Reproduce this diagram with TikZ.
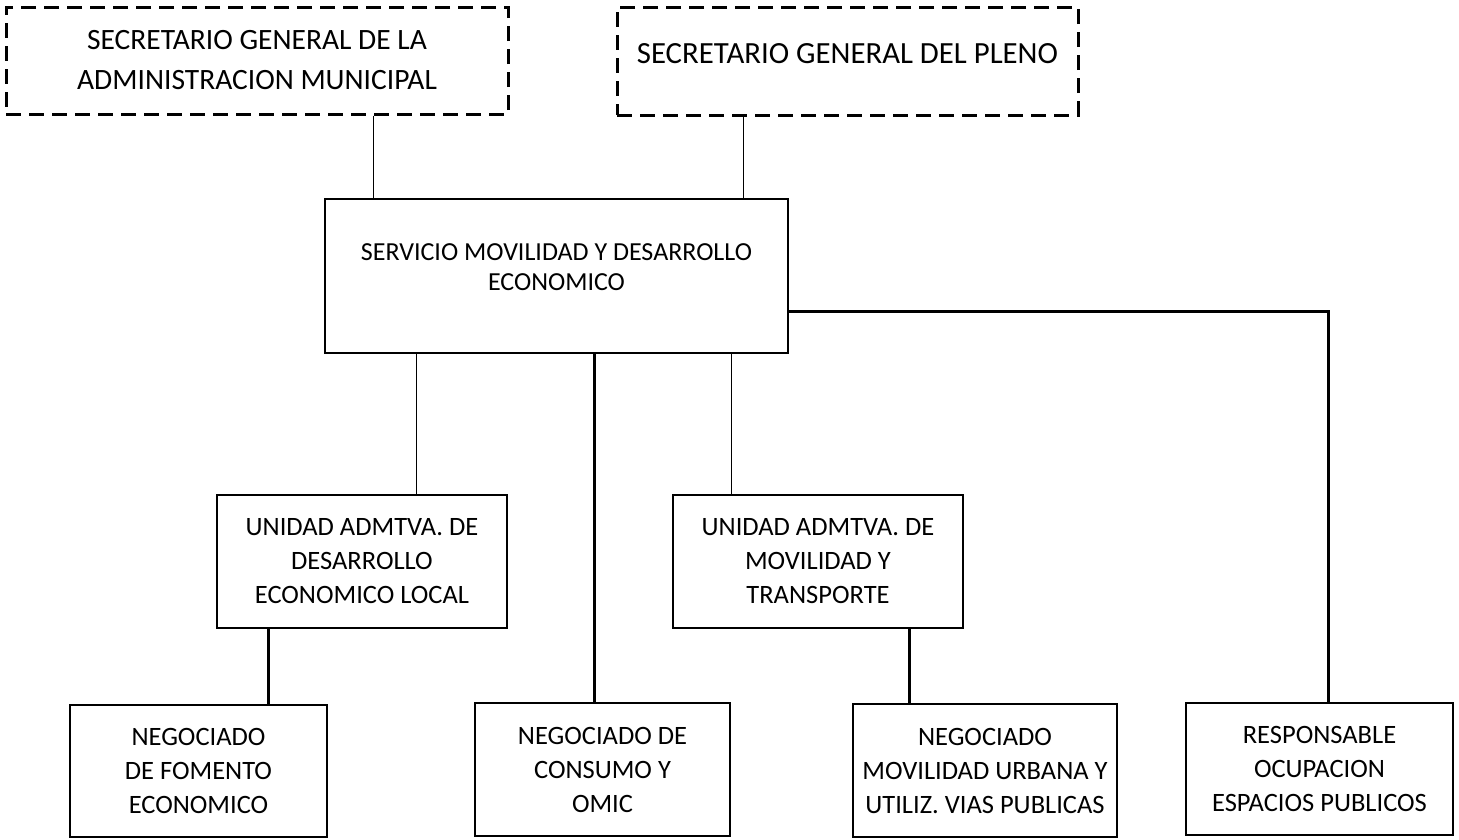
\documentclass[tikz,border=0pt]{standalone}
\usepackage{fontspec}
\setmainfont{Carlito}
\usetikzlibrary{positioning}

\begin{document}
\begin{tikzpicture}[x=1pt,y=-1pt,
  dashbox/.style={draw, line width=3pt, dash pattern=on 15pt off 8pt, align=center, inner sep=0pt, font=\fontsize{29.5}{40}\selectfont},
  unitbox/.style={draw, line width=2.5pt, align=center, inner sep=0pt, font=\fontsize{26.5}{34}\selectfont},
  boxtext/.style={align=center, inner sep=0pt, font=\fontsize{26}{30}\selectfont},
  thinline/.style={line width=1pt},
  thickline/.style={line width=3pt}]
\useasboundingbox (0,0) rectangle (1459,839);
% top row
\node[dashbox, minimum width=502pt, minimum height=107pt] (secadm) at (257,60.5) {SECRETARIO GENERAL DE LA\\ADMINISTRACION MUNICIPAL};
\node[dashbox, minimum width=461pt, minimum height=108pt,
  label={[name=secpleno-txt, dashbox, draw=none, font=\fontsize{30.8}{40}\selectfont, yshift=7pt]center:SECRETARIO GENERAL DEL PLENO}] (secpleno) at (847.5,61) {};
% service
\node[unitbox, minimum width=463pt, minimum height=154pt,
  label={[name=servicio-txt, boxtext, yshift=9pt]center:{SERVICIO MOVILIDAD Y DESARROLLO\\ECONOMICO}}] (servicio) at (556.5,276) {};
% units
\node[unitbox, minimum width=290pt, minimum height=133pt] (udel) at (362,561.5) {UNIDAD ADMTVA. DE\\DESARROLLO\\ECONOMICO LOCAL};
\node[unitbox, minimum width=290pt, minimum height=133pt] (umov) at (818,561.5) {UNIDAD ADMTVA. DE\\MOVILIDAD Y\\TRANSPORTE};
% bottom row
\node[unitbox, minimum width=257pt, minimum height=132pt] (negfom) at (198.5,771) {NEGOCIADO\\DE FOMENTO\\ECONOMICO};
\node[unitbox, minimum width=255pt, minimum height=133pt] (negcons) at (602.5,769.5) {NEGOCIADO DE\\CONSUMO Y\\OMIC};
\node[unitbox, minimum width=264pt, minimum height=133pt] (negmov) at (985,770.5) {NEGOCIADO\\MOVILIDAD URBANA Y\\UTILIZ. VIAS PUBLICAS};
\node[unitbox, minimum width=267pt, minimum height=132pt] (resp) at (1319.5,769) {RESPONSABLE\\OCUPACION\\ESPACIOS PUBLICOS};
% connectors
\draw[thinline] (secadm.south -| 373,0) -- (servicio.north -| 373,0);
\draw[thinline] (secpleno.south -| 743,0) -- (servicio.north -| 743,0);
\draw[thickline] (servicio.east |- 0,311) -| (resp.north -| 1328,0);
\draw[thinline] (servicio.south -| 416,0) -- (udel.north -| 416,0);
\draw[thickline] (servicio.south -| 594,0) -- (negcons.north -| 594,0);
\draw[thinline] (servicio.south -| 731,0) -- (umov.north -| 731,0);
\draw[thickline] (udel.south -| 268,0) -- (negfom.north -| 268,0);
\draw[thickline] (umov.south -| 909,0) -- (negmov.north -| 909,0);
\end{tikzpicture}
\end{document}
